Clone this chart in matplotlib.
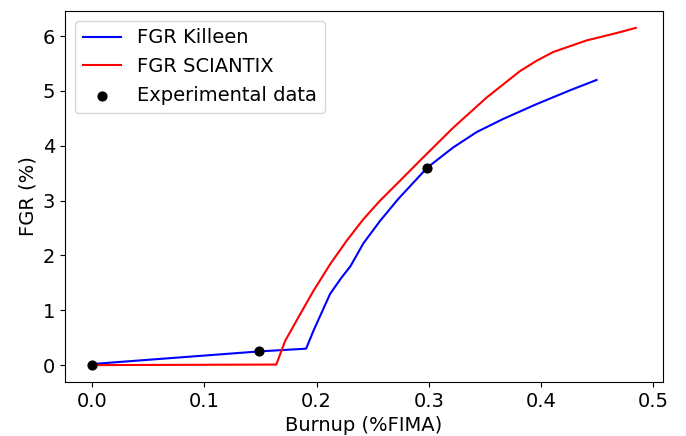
import matplotlib
matplotlib.use("Agg")
import matplotlib.pyplot as plt

killeen_x = [0.0, 0.149, 0.1906, 0.197, 0.212, 0.2223, 0.230, 0.2416, 0.2565, 0.2727, 0.2985, 0.3217, 0.3426, 0.3663, 0.396, 0.4256, 0.4494]
killeen_y = [0.02, 0.25, 0.30, 0.62, 1.30, 1.60, 1.80, 2.22, 2.63, 3.03, 3.60, 3.97, 4.25, 4.49, 4.76, 5.01, 5.20]

sciantix_x = [0.0, 0.164, 0.1719, 0.1823, 0.197, 0.212, 0.2268, 0.2416, 0.2565, 0.2727, 0.2921, 0.3217, 0.3515, 0.3811, 0.396, 0.4108, 0.4405, 0.470, 0.4844]
sciantix_y = [0.0, 0.01, 0.44, 0.82, 1.35, 1.84, 2.27, 2.66, 3.00, 3.33, 3.73, 4.33, 4.88, 5.36, 5.55, 5.71, 5.92, 6.07, 6.15]

exp_x = [0.0, 0.149, 0.2985]
exp_y = [0.0, 0.25, 3.60]

plt.rcParams['font.size'] = 14
fig = plt.figure(figsize=(6.86, 4.36), dpi=100)
ax = fig.add_axes([0.0948, 0.1239, 0.8717, 0.8509])
ax.plot(killeen_x, killeen_y, color='#0000ff', lw=1.5, label='FGR Killeen')
ax.plot(sciantix_x, sciantix_y, color='#ff0000', lw=1.5, label='FGR SCIANTIX')
ax.scatter(exp_x, exp_y, color='black', s=40, zorder=3, label='Experimental data')
ax.set_xlabel('Burnup (%FIMA)')
ax.set_ylabel('FGR (%)')
ax.legend(loc='upper left')
fig.savefig('out.png', dpi=100)
